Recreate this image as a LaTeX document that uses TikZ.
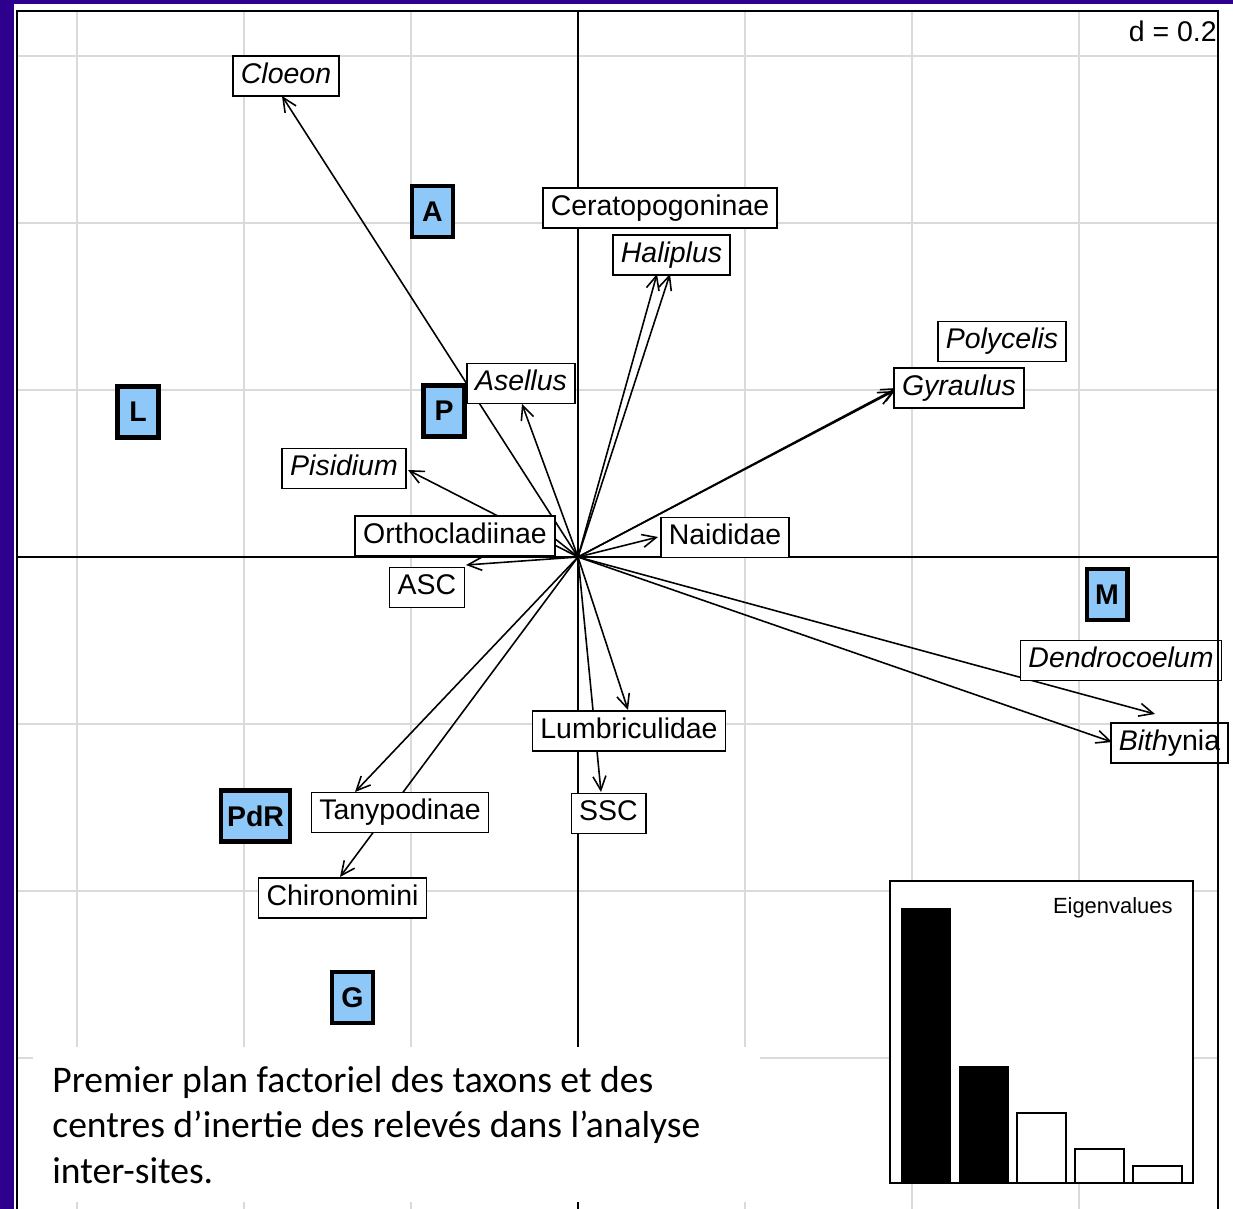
\documentclass[tikz,border=0pt]{standalone}
\usepackage{fontspec}
\setmainfont{Liberation Sans}
\newfontfamily\captionfont{Carlito}
\usetikzlibrary{arrows.meta}
\definecolor{slide}{RGB}{46,0,142}
\definecolor{siteblue}{RGB}{142,200,248}
\definecolor{gridgrey}{RGB}{218,218,218}

\begin{document}
\begin{tikzpicture}[x=0.02cm, y=-0.02cm]
       \tikzset{>={Straight Barb[length=0.28cm,width=0.26cm]}}
       \tikzset{taxon/.style={draw, fill=white, line width=0.85pt, inner xsep=0.16cm, inner ysep=0.13cm, text height=0.416cm, text depth=0.12cm, font=\fontsize{16.2}{19}\selectfont}}
       \tikzset{genus/.style={taxon, font=\fontsize{16.2}{19}\selectfont\itshape}}
       \tikzset{site/.style={draw, fill=siteblue, line width=2.3pt, minimum width=0.82cm, minimum height=1.02cm, inner xsep=0.12cm, text height=0.4cm, text depth=0cm, font=\fontsize{16.2}{19}\selectfont\bfseries}}
       \tikzset{vec/.style={->, line width=0.9pt}}
       \tikzset{gridline/.style={gridgrey, line width=1.1pt}}
       \tikzset{bar/.style={draw, line width=0.9pt}}

       \fill[white] (0,0) rectangle (1233,1209);
       \useasboundingbox (0,0) rectangle (1233,1209);

       \foreach \g in {77,244,411,578,745,912,1079} {
              \draw[gridline] (\g,11) -- (\g,1209);
       }
       \foreach \g in {56,223,390,557,724,891,1058} {
              \draw[gridline] (17,\g) -- (1218,\g);
       }
       \draw[line width=0.85pt] (578,11) -- (578,1209);
       \draw[line width=0.85pt] (17,557) -- (1218,557);

       \coordinate (o) at (578,557);
       \coordinate (tcloeon) at (282,96);
       \coordinate (tasellus) at (522,404);
       \coordinate (tcerato) at (657,274);
       \coordinate (thaliplus) at (670,274);
       \coordinate (tgyraulus) at (897,388);
       \coordinate (tpolycelis) at (894,391);
       \coordinate (tpisidium) at (408,470);
       \coordinate (tortho) at (530,519);
       \coordinate (tnaididae) at (658,537);
       \coordinate (tasc) at (466,565);
       \coordinate (tlumbri) at (628,710);
       \coordinate (tssc) at (601,792);
       \coordinate (ttanypo) at (355,792);
       \coordinate (tchirono) at (340,877);
       \coordinate (tdendro) at (1155,714);
       \coordinate (tbithynia) at (1112,742);

       \draw[vec] (o) -- (tcloeon);
       \draw[vec] (o) -- (tasellus);
       \draw[vec] (o) -- (tcerato);
       \draw[vec] (o) -- (thaliplus);
       \draw[vec] (o) -- (tgyraulus);
       \draw[vec] (o) -- (tpolycelis);
       \draw[vec] (o) -- (tpisidium);
       \draw[vec] (o) -- (tortho);
       \draw[vec] (o) -- (tnaididae);
       \draw[vec] (o) -- (tasc);
       \draw[vec] (o) -- (tlumbri);
       \draw[vec] (o) -- (tssc);
       \draw[vec] (o) -- (ttanypo);
       \draw[vec] (o) -- (tchirono);
       \draw[vec] (o) -- (tdendro);
       \draw[vec] (o) -- (tbithynia);

       \node[genus] (cloeon) at (286,76) {Cloeon};
       \node[taxon] (cerato) at (660,208) {Ceratopogoninae};
       \node[genus] (haliplus) at (671.5,255) {Haliplus};
       \node[genus] (polycelis) at (1002,341.5) {Polycelis};
       \node[genus] (gyraulus) at (959,388) {Gyraulus};
       \node[genus] (asellus) at (521,383.5) {Asellus};
       \node[genus] (pisidium) at (344,468.5) {Pisidium};
       \node[taxon] (ortho) at (455,536) {Orthocladiinae};
       \node[taxon] (naididae) at (725,537.5) {Naididae};
       \node[taxon] (asc) at (427,587.5) {ASC};
       \node[genus] (dendro) at (1121,660.5) {Dendrocoelum};
       \node[taxon] (bithynia) at (1169.5,743) {\textit{Bith}ynia};
       \node[taxon] (lumbri) at (629,731) {Lumbriculidae};
       \node[taxon] (tanypo) at (400,812.5) {Tanypodinae};
       \node[taxon] (ssc) at (608.5,813.5) {SSC};
       \node[taxon] (chirono) at (342.5,898) {Chironomini};

       \node[site] (sA) at (432.5,211.5) {A};
       \node[site] (sL) at (138,412) {L};
       \node[site] (sP) at (444,411) {P};
       \node[site] (sM) at (1107,594.5) {M};
       \node[site] (sPdR) at (255.5,816) {PdR};
       \node[site] (sG) at (352.5,997.5) {G};

       \node[anchor=base east, inner sep=0pt, font=\fontsize{16.2}{19}\selectfont] (scale) at (1217,42) {d = 0.2};

       \draw[fill=white, line width=0.9pt] (890,881) rectangle (1193,1183);
       \fill[black] (901,908) rectangle (951,1183);
       \fill[black] (959,1066) rectangle (1009,1183);
       \draw[bar] (1017,1183) rectangle (1066,1113);
       \draw[bar] (1075,1183) rectangle (1124,1149);
       \draw[bar] (1133,1183) rectangle (1182,1166);
       \node[anchor=base east, inner sep=0pt, font=\fontsize{12.5}{15}\selectfont] (eigen) at (1173,913) {Eigenvalues};

       \fill[white] (33,1047) rectangle (760,1202);
       \node[anchor=north west, inner sep=0pt, align=left, font=\captionfont\fontsize{21.4}{25.8}\selectfont] (caption) at (52,1066) {Premier plan factoriel des taxons et des\\centres d’inertie des relevés dans l’analyse\\inter-sites.};

       \draw[line width=1.2pt] (17,1209) -- (17,11) -- (1218,11) -- (1218,1209);
       \fill[slide] (0,0) rectangle (14,1209);
       \fill[slide] (0,0) rectangle (1233,4);
\end{tikzpicture}
\end{document}
